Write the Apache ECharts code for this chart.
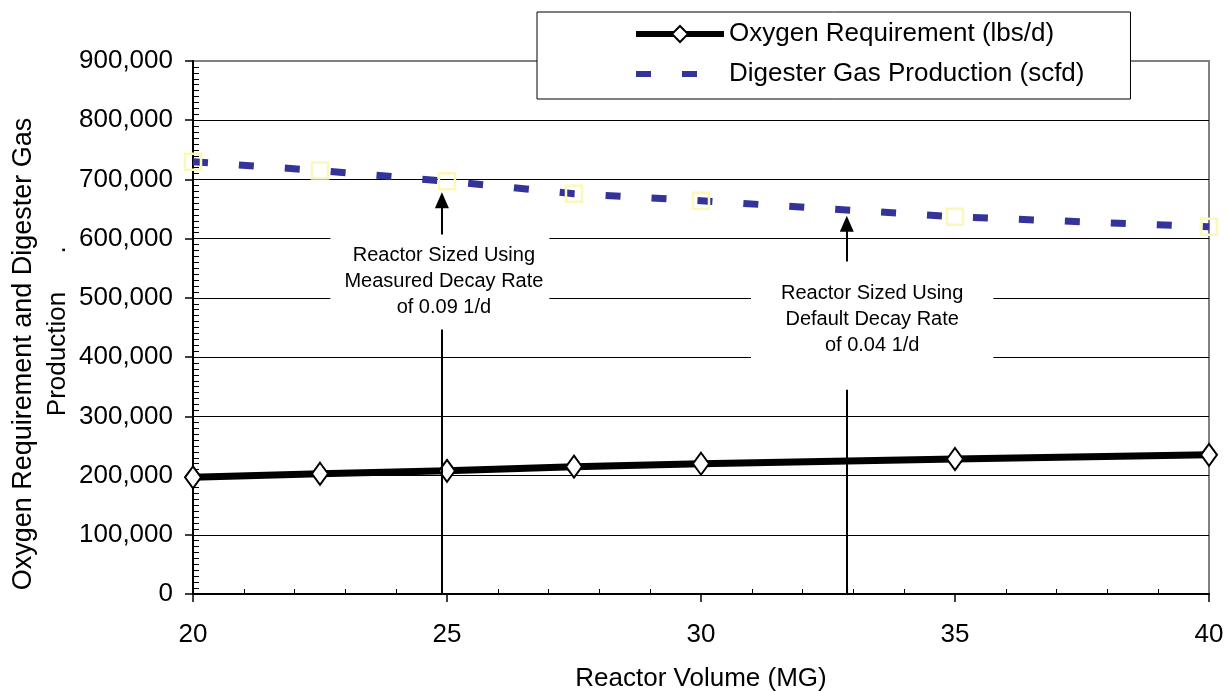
<!DOCTYPE html>
<html><head><meta charset="utf-8">
<script src="https://cdn.jsdelivr.net/npm/echarts@6/dist/echarts.min.js"></script>
<style>html,body{margin:0;padding:0;background:#fff}#c{width:1227px;height:691px}</style>
</head><body><div id="c"></div>
<script>
// ---- data ----
const volumes = [20, 22.5, 25, 27.5, 30, 35, 40];
const oxygenReq = [197000, 203000, 208000, 215000, 220000, 228000, 235000];
const gasProd = [730000, 715000, 697000, 676000, 664000, 637000, 620000];
const seriesNames = ['Oxygen Requirement (lbs/d)', 'Digester Gas Production (scfd)'];
const xAxisTitle = 'Reactor Volume (MG)';
const yAxisTitle = ['Oxygen Requirement and Digester Gas', 'Production'];
// annotations (data coordinates)
const annotX = [24.9, 32.87];
const annotBoxBottom = [451000, 345000];
const annotBoxTop = [598000, 539000];
const annotArrowTip = [665000, 625000];
const annotTextX = [24.86, 33.37];
const annotTextY = [527000, 463500];
const annotTexts = [
  'Reactor Sized Using\nMeasured Decay Rate\nof 0.09 1/d',
  'Reactor Sized Using\nDefault Decay Rate\nof 0.04 1/d'
];

const FONT = 'Liberation Sans, Arial, Helvetica, sans-serif';
const chart = echarts.init(document.getElementById('c'), null, {renderer: 'canvas'});

const pairs = (xs, ys) => xs.map((x, i) => [x, ys[i]]);
const fmt = v => v.toLocaleString('en-US');

const markLineData = [];
annotX.forEach((x, i) => {
  markLineData.push([{coord: [x, 0], symbol: 'none'}, {coord: [x, annotBoxBottom[i]], symbol: 'none'}]);
  markLineData.push([{coord: [x, annotBoxTop[i]], symbol: 'none'}, {coord: [x, annotArrowTip[i]], symbol: 'triangle'}]);
});
const paddings = [[9, 6, 8, 14], [0, 30, 38, 30]];
const markPointData = annotX.map((x, i) => ({
  coord: [annotTextX[i], annotTextY[i]],
  label: {padding: paddings[i]},
  value: annotTexts[i]
}));

const gridColors = [];
for (let i = 0; i < 9; i++) gridColors.push('#000');
gridColors.push('#808080');

chart.setOption({
  animation: false,
  backgroundColor: '#fff',
  grid: {left: 193, right: 18, top: 61, bottom: 97, show: true, borderColor: '#808080', borderWidth: 2,
         containLabel: false, outerBoundsMode: 'none'},
  legend: {
    data: [
      {name: seriesNames[0]},
      {name: seriesNames[1], itemStyle: {borderColor: 'rgba(0,0,0,0)', color: 'rgba(0,0,0,0)'}}
    ],
    orient: 'vertical', left: 537, top: 12,
    padding: [9, 46, 12, 96], itemWidth: 88, itemHeight: 20, itemGap: 14, itemTextGap: 5,
    backgroundColor: '#fff', borderColor: '#000', borderWidth: 1,
    lineStyle: {width: 6},
    textStyle: {fontSize: 26, color: '#000', fontFamily: FONT}
  },
  xAxis: {
    type: 'value', min: 20, max: 40, interval: 5,
    name: xAxisTitle, nameLocation: 'middle', nameGap: 72,
    nameTextStyle: {fontSize: 26, color: '#000', fontFamily: FONT},
    axisLine: {show: true, lineStyle: {color: '#000', width: 2}},
    axisTick: {show: true, length: 8, lineStyle: {color: '#000', width: 1.5}},
    minorTick: {show: true, splitNumber: 5, length: -5, lineStyle: {color: '#000', width: 1}},
    axisLabel: {fontSize: 26, color: '#000', fontFamily: FONT, margin: 28},
    splitLine: {show: false}
  },
  yAxis: {
    type: 'value', min: 0, max: 900000, interval: 100000,
    axisLine: {show: true, lineStyle: {color: '#000', width: 2}},
    axisTick: {show: true, length: 8, lineStyle: {color: '#000', width: 1.5}},
    minorTick: {show: true, splitNumber: 10, length: -6, lineStyle: {color: '#000', width: 1}},
    axisLabel: {fontSize: 26, color: '#000', fontFamily: FONT, margin: 20, formatter: fmt},
    splitLine: {show: true, lineStyle: {color: gridColors, width: 1}}
  },
  graphic: [
    {type: 'text', x: 24, y: 354, rotation: Math.PI / 2,
     style: {text: yAxisTitle[0], font: '27px ' + FONT, fill: '#000', textAlign: 'center', textVerticalAlign: 'middle'}},
    {type: 'text', x: 57.5, y: 354, rotation: Math.PI / 2,
     style: {text: yAxisTitle[1], font: '26px ' + FONT, fill: '#000', textAlign: 'center', textVerticalAlign: 'middle'}},
    {type: 'text', x: 57.5, y: 250, rotation: Math.PI / 2,
     style: {text: '.', font: '26px ' + FONT, fill: '#000', textAlign: 'center', textVerticalAlign: 'middle'}}
  ],
  series: [
    {
      name: seriesNames[0], type: 'line', data: pairs(volumes, oxygenReq), clip: false, z: 4,
      symbol: 'diamond', symbolSize: [16, 22],
      lineStyle: {color: '#000', width: 7},
      itemStyle: {color: '#fff', borderColor: '#000', borderWidth: 2}
    },
    {
      name: seriesNames[1], type: 'line', data: pairs(volumes, gasProd), clip: false, z: 3,
      symbol: 'rect', symbolSize: 16,
      lineStyle: {color: '#333399', width: 7, type: [15, 31], cap: 'butt'},
      itemStyle: {color: 'rgba(255,255,255,0)', borderColor: '#fbf8b8', borderWidth: 2.5}
    },
    {
      name: 'annotations', type: 'line', data: [], z: 5,
      markLine: {
        silent: true, animation: false, symbolSize: [14, 16],
        lineStyle: {color: '#000', width: 2, type: 'solid'},
        itemStyle: {color: '#000'},
        label: {show: false},
        emphasis: {disabled: true},
        data: markLineData
      },
      markPoint: {
        silent: true, animation: false, symbol: 'rect', symbolSize: 1,
        itemStyle: {color: 'rgba(0,0,0,0)'},
        label: {show: true, position: 'inside', color: '#000', fontSize: 20, lineHeight: 26, fontFamily: FONT,
                backgroundColor: '#fff', align: 'center', verticalAlign: 'middle',
                formatter: p => p.value},
        data: markPointData
      }
    }
  ]
});
</script></body></html>
